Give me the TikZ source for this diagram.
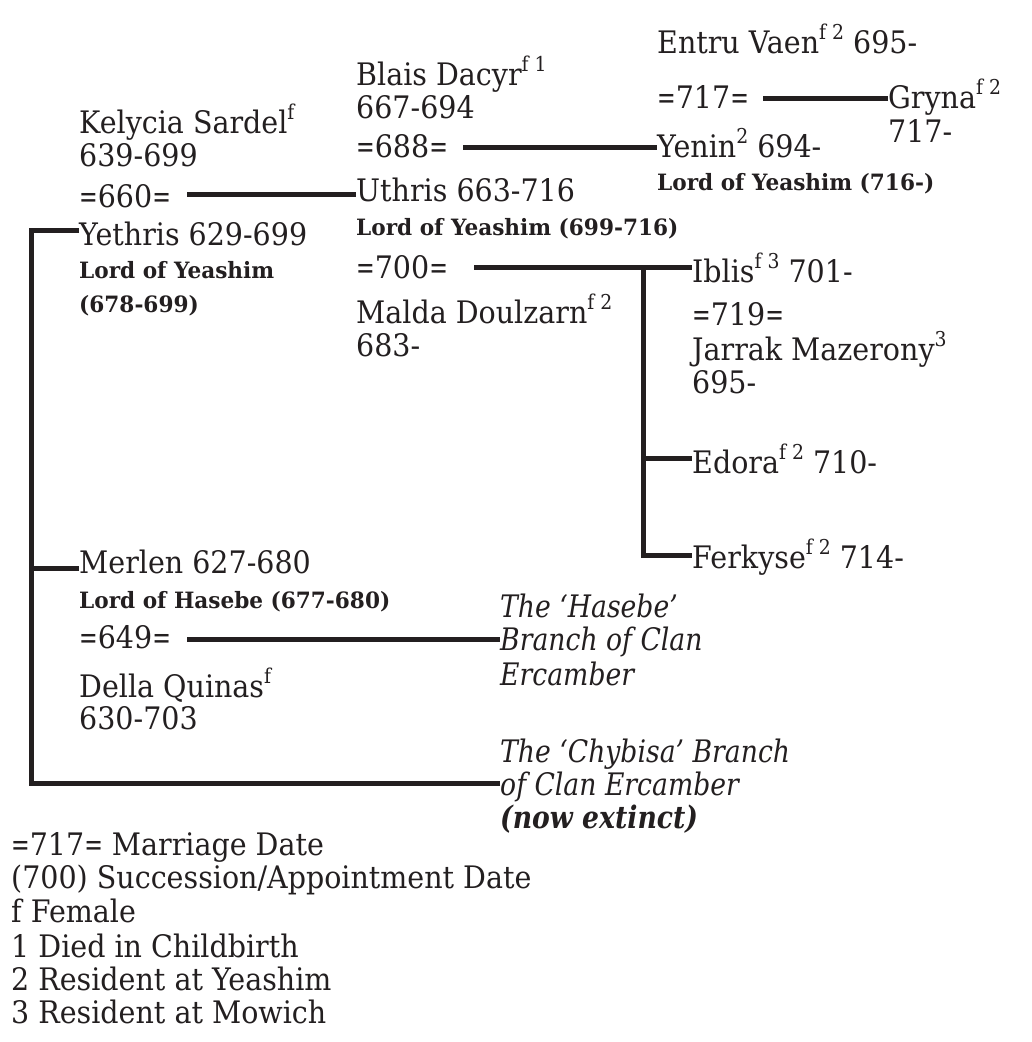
\documentclass[tikz,border=0pt]{standalone}
\usepackage{fontspec}
\setmainfont{DejaVu Serif}[FakeStretch=0.92]
\newfontfamily\bfam{DejaVu Serif}[FakeStretch=0.96]
\newfontfamily\ifam{DejaVu Serif}[FakeStretch=0.86]
\definecolor{ink}{HTML}{231F20}
\newcommand\supx[1]{\raisebox{0.42em}{\scalebox{0.66}{#1}}}
\newcommand\eqx{\scalebox{0.78}[1]{=}}
\tikzset{
  txt/.style={anchor=base west, inner sep=0pt, text=ink, font=\fontsize{31}{33}\selectfont},
  ttl/.style={anchor=base west, inner sep=0pt, text=ink, font=\bfam\bfseries\fontsize{22.5}{24}\selectfont},
  itl/.style={anchor=base west, inner sep=0pt, text=ink, font=\ifam\itshape\fontsize{31}{33}\selectfont},
  itb/.style={anchor=base west, inner sep=0pt, text=ink, font=\ifam\bfseries\itshape\fontsize{31}{33}\selectfont},
  link/.style={draw=ink, line width=5pt, line join=miter}
}
\begin{document}
\begin{tikzpicture}[x=1pt,y=-1pt]
\useasboundingbox[fill=white] (0,0) rectangle (1032,1042);
% column 1
\node[txt] (kel) at (79,133) {Kelycia Sardel\supx{f}};
\node[txt] (kel2) at (79,166) {639-699};
\node[txt] (m660) at (79,207) {\eqx660\eqx};
\node[txt] (yeth) at (79,245) {Yethris 629-699};
\node[ttl] (yethT) at (79,278) {Lord of Yeashim};
\node[ttl] (yethT2) at (79,312) {(678-699)};
% column 2
\node[txt] (blais) at (356,85) {Blais Dacyr\supx{f 1}};
\node[txt] (blais2) at (356,118) {667-694};
\node[txt] (m688) at (356,157) {\eqx688\eqx};
\node[txt] (uth) at (356,201) {Uthris 663-716};
\node[ttl] (uthT) at (356,235) {Lord of Yeashim (699-716)};
\node[txt] (m700) at (356,278) {\eqx700\eqx};
\node[txt] (malda) at (356,323) {Malda Doulzarn\supx{f 2}};
\node[txt] (malda2) at (356,356) {683-};
% column 3
\node[txt] (entru) at (657,53) {Entru Vaen\supx{f 2} 695-};
\node[txt] (m717) at (657,108) {\eqx717\eqx};
\node[txt] (yenin) at (657,157) {Yenin\supx{2} 694-};
\node[ttl] (yeninT) at (657,190) {Lord of Yeashim (716-)};
\node[txt] (gryna) at (888,108) {Gryna\supx{f 2}};
\node[txt] (gryna2) at (888,142) {717-};
% children of Uthris
\node[txt] (iblis) at (692,282) {Iblis\supx{f 3} 701-};
\node[txt] (m719) at (692,325) {\eqx719\eqx};
\node[txt] (jarrak) at (692,360) {Jarrak Mazerony\supx{3}};
\node[txt] (jarrak2) at (692,393) {695-};
\node[txt] (edora) at (692,473) {Edora\supx{f 2} 710-};
\node[txt] (ferk) at (692,568) {Ferkyse\supx{f 2} 714-};
% Merlen
\node[txt] (merlen) at (79,573) {Merlen 627-680};
\node[ttl] (merlenT) at (79,608) {Lord of Hasebe (677-680)};
\node[txt] (m649) at (79,648) {\eqx649\eqx};
\node[txt] (della) at (79,697) {Della Quinas\supx{f}};
\node[txt] (della2) at (79,729) {630-703};
% branches
\node[itl] (has1) at (500,617) {The ‘Hasebe’};
\node[itl] (has2) at (500,650) {Branch of Clan};
\node[itl] (has3) at (500,685) {Ercamber};
\node[itl] (chy1) at (500,762) {The ‘Chybisa’ Branch};
\node[itl] (chy2) at (500,795) {of Clan Ercamber};
\node[itb] (chy3) at (500,828) {(now extinct)};
% legend
\node[txt] (lg1) at (11,855) {\eqx717\eqx{} Marriage Date};
\node[txt] (lg2) at (11,888) {(700) Succession/Appointment Date};
\node[txt] (lg3) at (11,922) {f Female};
\node[txt] (lg4) at (11,957) {1 Died in Childbirth};
\node[txt] (lg5) at (11,990) {2 Resident at Yeashim};
\node[txt] (lg6) at (11,1023) {3 Resident at Mowich};
% connectors
\coordinate (a660) at (187,194);
\coordinate (a688) at (463,147);
\coordinate (a717) at (763,98);
\coordinate (a700) at (474,267);
\coordinate (b700) at (643,267);
\coordinate (bEd) at (643,458);
\coordinate (bFe) at (643,555);
\coordinate (a649) at (187,639);
\coordinate (t1) at (31,230);
\coordinate (t2) at (31,568);
\coordinate (t3) at (31,783);
\draw[link] (a660) -- (a660 -| uth.west);
\draw[link] (a688) -- (a688 -| yenin.west);
\draw[link] (a717) -- (a717 -| gryna.west);
\draw[link] (a700) -- (a700 -| iblis.west);
\draw[link] (b700) -- (bFe) -- (bFe -| ferk.west);
\draw[link] (bEd) -- (bEd -| edora.west);
\draw[link] (a649) -- (a649 -| has2.west);
\draw[link] (t1 -| yeth.west) -- (t1) -- (t3) -- (t3 -| chy2.west);
\draw[link] (t2) -- (t2 -| merlen.west);
\end{tikzpicture}
\end{document}
